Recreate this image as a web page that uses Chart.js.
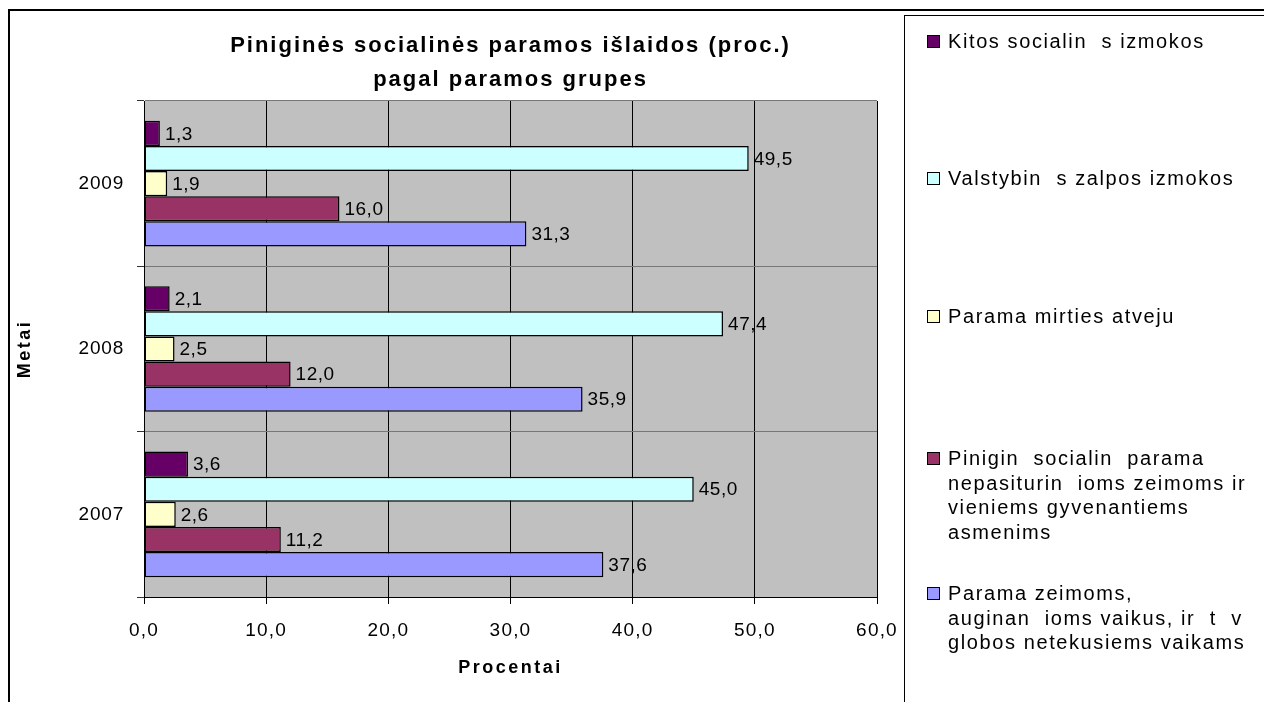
<!DOCTYPE html>
<html>
<head>
<meta charset="utf-8">
<script src="https://cdn.jsdelivr.net/npm/chart.js@4.4.1/dist/chart.umd.min.js"></script>
<style>
    body { margin: 0; background: #fff; font-family: "Liberation Sans", Arial, sans-serif; }
    #wrapper { position: relative; width: 1264px; height: 702px; overflow: hidden; }
    #frame { position: absolute; left: 8px; top: 9px; width: 1400px; height: 800px; border-left: 2px solid #000; border-top: 2px solid #000; }
    #legendBox { position: absolute; left: 904px; top: 15px; width: 500px; height: 800px; border-left: 1px solid #000; border-top: 1px solid #000; }
    .item { position: absolute; left: 927px; font-size: 20px; letter-spacing: 1.6px; line-height: 24.5px; white-space: pre; color: #000; }
    .item .box { position: absolute; left: 0; top: 6px; width: 11px; height: 11px; border: 1px solid #000; }
    .item .txt { margin-left: 21px; }
    canvas { position: absolute; left: 0; top: 0; }
</style>
</head>
<body>
<div id="wrapper">
    <div id="frame"></div>
    <div id="legendBox"></div>
    <canvas id="myChart" width="1264" height="702"></canvas>
</div>
<script>
const years = ['2009', '2008', '2007'];
const xTicks = [0, 10, 20, 30, 40, 50, 60];

const kitos = [1.3, 2.1, 3.6];
const valstybines = [49.5, 47.4, 45.0];
const mirties = [1.9, 2.5, 2.6];
const pinigine = [16.0, 12.0, 11.2];
const seimoms = [31.3, 35.9, 37.6];

const seriesLabels = [
    ['Kitos socialin  s izmokos'],
    ['Valstybin  s zalpos izmokos'],
    ['Parama mirties atveju'],
    ['Pinigin  socialin  parama', 'nepasiturin  ioms zeimoms ir', 'vieniems gyvenantiems', 'asmenims'],
    ['Parama zeimoms,', 'auginan  ioms vaikus, ir  t  v', 'globos netekusiems vaikams']
];
const seriesData = [kitos, valstybines, mirties, pinigine, seimoms];
const colors = ['#660066', '#CCFFFF', '#FFFFCC', '#993366', '#9999FF'];
const legendTop = [29, 166, 304, 446, 581];

const fmt = v => v.toFixed(1).replace('.', ',');
const family = '"Liberation Sans", Arial, sans-serif';

// grey plot area
const plotBg = {
    id: 'plotBg',
    beforeDraw(chart) {
        const { ctx, chartArea: a } = chart;
        ctx.save();
        ctx.fillStyle = '#C0C0C0';
        ctx.fillRect(a.left, a.top, a.right - a.left, a.bottom - a.top);
        ctx.restore();
    }
};

// numbers at the end of bars
const barValues = {
    id: 'barValues',
    afterDatasetsDraw(chart) {
        const ctx = chart.ctx;
        ctx.save();
        ctx.font = '19px ' + family;
        ctx.letterSpacing = '0.5px';
        ctx.fillStyle = '#000';
        ctx.textAlign = 'left';
        ctx.textBaseline = 'middle';
        chart.data.datasets.forEach((ds, i) => {
            chart.getDatasetMeta(i).data.forEach((bar, j) => {
                ctx.fillText(fmt(ds.data[j]), bar.x + 5, bar.y + 1);
            });
        });
        ctx.restore();
    }
};

// wider letters for the titles, like the original
const spacing = {
    id: 'spacing',
    afterLayout(chart) {
        const patch = (obj, fn, sp) => {
            if (!obj || obj['_sp' + fn]) return;
            const orig = obj[fn];
            obj[fn] = function (...args) {
                const c = this.ctx;
                const old = c.letterSpacing;
                c.letterSpacing = sp;
                orig.apply(this, args);
                c.letterSpacing = old;
            };
            obj['_sp' + fn] = true;
        };
        patch(chart.titleBlock, 'draw', '2px');
        patch(chart.scales.x, 'drawTitle', '2.5px');
        patch(chart.scales.y, 'drawTitle', '2.5px');
        patch(chart.scales.x, 'drawLabels', '1.2px');
        patch(chart.scales.y, 'drawLabels', '0.8px');
    }
};

const ctx = document.getElementById('myChart').getContext('2d');
const myChart = new Chart(ctx, {
    type: 'bar',
    data: {
        labels: years,
        datasets: seriesData.map((d, i) => ({
            label: seriesLabels[i].join(' '),
            data: d,
            backgroundColor: colors[i],
            borderColor: '#000',
            borderWidth: 1.5,
            borderSkipped: false,
            barPercentage: 1.0,
            categoryPercentage: 0.76
        }))
    },
    options: {
        indexAxis: 'y',
        responsive: false,
        animation: false,
        layout: { padding: { left: 0, top: 10, right: 387, bottom: 0 } },
        plugins: {
            legend: { display: false },
            tooltip: { enabled: false },
            title: {
                display: true,
                fullSize: false,
                text: ['Piniginės socialinės paramos išlaidos (proc.)', 'pagal paramos grupes'],
                color: '#000',
                font: { family: family, size: 22, weight: 'bold', lineHeight: '34px' },
                padding: { top: 19, bottom: 4 }
            }
        },
        scales: {
            x: {
                min: 0,
                max: 60,
                afterBuildTicks: s => { s.ticks = xTicks.map(v => ({ value: v })); },
                afterFit: s => { s.height = 105; },
                ticks: {
                    color: '#000',
                    padding: 15,
                    font: { family: family, size: 19 },
                    callback: v => fmt(v)
                },
                grid: { color: '#000', tickColor: '#000', tickLength: 7, lineWidth: 1 },
                border: { color: '#000', width: 1 },
                title: {
                    display: true,
                    text: 'Procentai',
                    color: '#000',
                    font: { family: family, size: 18, weight: 'bold' },
                    padding: { top: 0, bottom: 23 }
                }
            },
            y: {
                afterFit: s => { s.width = 144; },
                ticks: {
                    color: '#000',
                    padding: 13,
                    font: { family: family, size: 19 }
                },
                grid: { color: '#777', tickColor: '#333', tickLength: 7, offset: true },
                border: { color: '#000', width: 1 },
                title: {
                    display: true,
                    text: 'Metai',
                    color: '#000',
                    font: { family: family, size: 18, weight: 'bold' },
                    padding: { top: 14, bottom: 0 }
                }
            }
        }
    },
    plugins: [plotBg, barValues, spacing]
});

// legend at the right, same order as the bars
const wrapper = document.getElementById('wrapper');
seriesLabels.forEach((lines, i) => {
    const div = document.createElement('div');
    div.className = 'item';
    div.style.top = legendTop[i] + 'px';
    const box = document.createElement('span');
    box.className = 'box';
    box.style.background = colors[i];
    const txt = document.createElement('div');
    txt.className = 'txt';
    txt.textContent = lines.join('\n');
    div.appendChild(box);
    div.appendChild(txt);
    wrapper.appendChild(div);
});
</script>
</body>
</html>
